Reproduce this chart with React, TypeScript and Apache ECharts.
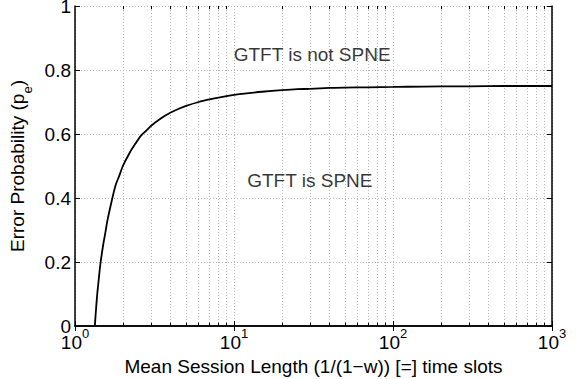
import React, { useEffect, useRef } from "react";
import * as echarts from "echarts";

// Mean session length (x, log scale) and the threshold error probability (y)
const sessionLength = [1.333, 1.35, 1.38, 1.4, 1.43, 1.45, 1.5, 1.55, 1.6, 1.7, 1.8, 1.9, 2, 2.2, 2.4, 2.6, 2.8, 3, 3.5, 4, 4.5, 5, 6, 7, 8, 10, 12, 15, 20, 25, 30, 40, 50, 70, 100, 200, 300, 500, 1000];
const errorProb = [0, 0.04, 0.1, 0.13, 0.175, 0.2, 0.25, 0.29, 0.33, 0.39, 0.44, 0.47, 0.5, 0.54, 0.57, 0.595, 0.61, 0.625, 0.65, 0.667, 0.679, 0.688, 0.7, 0.708, 0.714, 0.722, 0.727, 0.732, 0.737, 0.74, 0.741, 0.744, 0.745, 0.746, 0.747, 0.749, 0.749, 0.75, 0.75];

const xMinorTicks = [2, 3, 4, 5, 6, 7, 8, 9, 20, 30, 40, 50, 60, 70, 80, 90, 200, 300, 400, 500, 600, 700, 800, 900];
const yTicks = [0, 0.2, 0.4, 0.6, 0.8, 1];

const regionLabels = [
  { text: "GTFT is not SPNE", x: 31, y: 0.85 },
  { text: "GTFT is SPNE", x: 30, y: 0.455 },
];

const FONT = "Liberation Sans, Arial, Helvetica, sans-serif";
const FS = 19;
const gridDot = { color: "#b4b4b4", width: 1, type: [1, 2] as number[] };

export default function App() {
  const ref = useRef<HTMLDivElement>(null);
  useEffect(() => {
    if (!ref.current) return;
    const chart = echarts.init(ref.current, undefined, { renderer: "svg" });
    const lineData = sessionLength.map((x, i) => [x, errorProb[i]]);

    const minorGrid = xMinorTicks.map((v) => ({ xAxis: v }));
    const minorTickMarks: any[] = [];
    xMinorTicks.forEach((v) => {
      minorTickMarks.push([{ coord: [v, 0] }, { coord: [v, 0.01] }]);
      minorTickMarks.push([{ coord: [v, 1] }, { coord: [v, 0.99] }]);
    });

    const xCommon = {
      type: "log" as const,
      logBase: 10,
      min: 1,
      max: 1000,
    };

    chart.setOption({
      animation: false,
      backgroundColor: "#ffffff",
      textStyle: { fontFamily: FONT },
      grid: { left: 75, right: 24, top: 6, bottom: 53, containLabel: false, outerBoundsMode: "none" },
      xAxis: [
        {
          ...xCommon,
          position: "bottom",
          name: "Mean Session Length (1/(1\u2212w)) [=] time slots",
          nameLocation: "middle",
          nameGap: 17,
          nameTextStyle: { fontSize: FS, color: "#000", fontFamily: FONT },
          axisLine: { show: true, lineStyle: { color: "#000", width: 1.5 } },
          axisTick: { show: true, inside: true, length: 5, lineStyle: { color: "#000", width: 1 } },
          minorTick: { show: false },
          splitLine: { show: true, lineStyle: gridDot },
          axisLabel: {
            show: true,
            margin: 1,
            color: "#000",
            fontFamily: FONT,
            formatter: (v: number) => {
              const e = Math.round(Math.log10(v));
              return `{b|10}{s|${e}}`;
            },
            rich: {
              b: { fontSize: FS, fontFamily: FONT, color: "#000", lineHeight: 25, verticalAlign: "bottom" },
              s: { fontSize: 13, fontFamily: FONT, color: "#000", lineHeight: 25, verticalAlign: "top" },
            },
          },
        },
        {
          ...xCommon,
          position: "top",
          axisLine: { show: true, lineStyle: { color: "#000", width: 1.5 } },
          axisTick: { show: true, inside: true, length: 5, lineStyle: { color: "#000", width: 1 } },
          axisLabel: { show: false },
          splitLine: { show: false },
        },
      ],
      yAxis: [
        {
          type: "value",
          min: 0,
          max: 1,
          interval: 0.2,
          position: "left",
          name: "{a|Error Probability (p}{e|e}{a|)}",
          nameLocation: "middle",
          nameGap: 31,
          nameTextStyle: {
            fontSize: FS,
            color: "#000",
            fontFamily: FONT,
            rich: {
              a: { fontSize: FS, fontFamily: FONT, color: "#000", lineHeight: 26, verticalAlign: "top" },
              e: { fontSize: 13, fontFamily: FONT, color: "#000", lineHeight: 26, verticalAlign: "bottom" },
            },
          },
          axisLine: { show: true, lineStyle: { color: "#000", width: 1.5 } },
          axisTick: { show: true, inside: true, length: 5, lineStyle: { color: "#000", width: 1 } },
          splitLine: { show: true, lineStyle: gridDot },
          axisLabel: {
            show: true,
            margin: 4,
            fontSize: FS,
            color: "#000",
            fontFamily: FONT,
            formatter: (v: number) => (yTicks.includes(Math.round(v * 10) / 10) ? String(Math.round(v * 10) / 10) : ""),
          },
        },
        {
          type: "value",
          min: 0,
          max: 1,
          interval: 0.2,
          position: "right",
          axisLine: { show: true, lineStyle: { color: "#000", width: 1.5 } },
          axisTick: { show: true, inside: true, length: 5, lineStyle: { color: "#000", width: 1 } },
          splitLine: { show: false },
          axisLabel: { show: false },
        },
      ],
      series: [
        {
          type: "line",
          name: "threshold",
          xAxisIndex: 0,
          yAxisIndex: 0,
          data: lineData,
          showSymbol: false,
          symbol: "none",
          smooth: 0.25,
          lineStyle: { color: "#000", width: 1.8 },
          z: 5,
          markLine: {
            silent: true,
            symbol: ["none", "none"],
            label: { show: false },
            animation: false,
            lineStyle: gridDot,
            data: minorGrid,
            z: 1,
          },
        },
        {
          type: "line",
          name: "minorTicks",
          xAxisIndex: 0,
          yAxisIndex: 0,
          data: [],
          markLine: {
            silent: true,
            symbol: ["none", "none"],
            label: { show: false },
            animation: false,
            lineStyle: { color: "#000", width: 1, type: "solid" },
            data: minorTickMarks,
          },
        },
        {
          type: "scatter",
          name: "regions",
          xAxisIndex: 0,
          yAxisIndex: 0,
          symbolSize: 0,
          data: regionLabels.map((r) => ({ value: [r.x, r.y], name: r.text })),
          label: {
            show: true,
            position: "inside",
            formatter: (p: any) => p.name,
            fontSize: FS,
            color: "#000",
            fontFamily: FONT,
          },
          z: 6,
        },
      ],
    });
    return () => chart.dispose();
  }, []);
  return (
    <div
      ref={ref}
      style={{ position: "fixed", left: 0, top: 0, width: 576, height: 379, background: "#fff" }}
    />
  );
}
